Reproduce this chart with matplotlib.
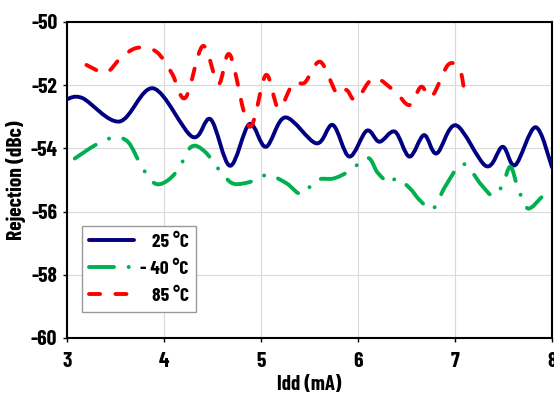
import numpy as np
import matplotlib
matplotlib.use("Agg")
import matplotlib.pyplot as plt
from matplotlib.path import Path
from matplotlib.patches import PathPatch
from matplotlib.lines import Line2D

plt.rcParams["font.family"] = ["Barlow Condensed", "Barlow Semi Condensed", "DejaVu Sans"]
plt.rcParams["font.weight"] = "bold"
plt.rcParams["axes.unicode_minus"] = False
plt.rcParams["lines.scale_dashes"] = False

# ---------------------------------------------------------------------------
# Data (Idd in mA, rejection in dBc)
# ---------------------------------------------------------------------------
idd_25 = [3.00, 3.16, 3.54, 3.89, 4.29, 4.48, 4.68, 4.88, 5.05, 5.25, 5.57, 5.74,
          5.91, 6.09, 6.22, 6.38, 6.53, 6.68, 6.81, 7.01, 7.32, 7.49, 7.62, 7.83, 8.00]
rej_25 = [-52.44, -52.41, -53.15, -52.10, -53.63, -53.08, -54.55, -53.23, -53.95, -53.02,
          -53.84, -53.26, -54.26, -53.44, -53.79, -53.47, -54.26, -53.58, -54.16, -53.27,
          -54.56, -53.95, -54.53, -53.33, -54.60]

idd_m40 = [3.08, 3.30, 3.48, 3.63, 3.77, 3.90, 4.02, 4.15, 4.28, 4.42, 4.60, 4.72,
           4.90, 5.07, 5.26, 5.42, 5.57, 5.75, 5.92, 6.10, 6.20, 6.32, 6.40, 6.53,
           6.64, 6.77, 6.90, 7.08, 7.27, 7.39, 7.49, 7.57, 7.65, 7.75, 7.89]
rej_m40 = [-54.32, -53.88, -53.66, -53.80, -54.58, -55.10, -55.05, -54.65, -53.95, -54.10,
           -54.80, -55.12, -55.05, -54.84, -55.10, -55.45, -55.00, -54.95, -54.70, -54.30,
           -54.76, -55.10, -54.95, -55.25, -55.65, -55.92, -55.20, -54.49, -55.15, -55.50,
           -55.16, -54.58, -55.26, -55.90, -55.55]

idd_85 = [3.20, 3.40, 3.55, 3.72, 3.92, 4.08, 4.22, 4.40, 4.56, 4.68, 4.88, 5.05,
          5.18, 5.33, 5.45, 5.61, 5.78, 5.88, 5.98, 6.16, 6.38, 6.53, 6.65, 6.76,
          6.93, 7.05, 7.10, 7.15]
rej_85 = [-51.36, -51.60, -51.15, -50.82, -50.94, -51.62, -52.40, -50.76, -51.96, -51.04,
          -53.31, -51.68, -52.73, -51.94, -51.92, -51.26, -52.26, -52.15, -52.47, -51.78,
          -52.20, -52.63, -52.05, -52.36, -51.35, -51.52, -52.20, -52.10]

labels = ["25 °C", "- 40 °C", "85 °C"]
x_ticks = [3, 4, 5, 6, 7, 8]
y_ticks = [-60, -58, -56, -54, -52, -50]

NAVY = "#000080"
GREEN = "#00b050"
RED = "#ff0000"
LW = 2.8
DASH_GREEN = (0, (18, 10.5, 0.1, 10.5))
DASH_RED = (0, (8, 11))


def smooth_path(x, y):
    """Catmull-Rom curve through the points, as cubic Bezier segments (Excel-style smoothing)."""
    p = np.column_stack([x, y]).astype(float)
    ext = np.vstack([p[0], p, p[-1]])
    verts = [p[0]]
    codes = [Path.MOVETO]
    for i in range(1, len(ext) - 2):
        c1 = ext[i] + (ext[i + 1] - ext[i - 1]) / 6.0
        c2 = ext[i + 1] - (ext[i + 2] - ext[i]) / 6.0
        verts += [c1, c2, ext[i + 1]]
        codes += [Path.CURVE4] * 3
    return Path(verts, codes)


fig = plt.figure(figsize=(5.54, 3.96), dpi=100)
ax = fig.add_axes([0.121, 0.1465, 0.8755, 0.798])

series = [
    (idd_25, rej_25, NAVY, "-"),
    (idd_m40, rej_m40, GREEN, DASH_GREEN),
    (idd_85, rej_85, RED, DASH_RED),
]
handles = []
for xs, ys, col, ls in series:
    patch = PathPatch(smooth_path(xs, ys), fill=False, edgecolor=col, linewidth=LW,
                      linestyle=ls, capstyle="round", joinstyle="round", zorder=3)
    ax.add_patch(patch)
    handles.append(Line2D([], [], color=col, linewidth=LW, linestyle=ls,
                          dash_capstyle="round", solid_capstyle="round"))

ax.set_xlim(3, 8)
ax.set_ylim(-60, -50)
ax.set_xticks(x_ticks)
ax.set_yticks(y_ticks)
ax.grid(True, color="#d9d9d9", linewidth=0.8)
ax.set_axisbelow(True)
for sp in ax.spines.values():
    sp.set_linewidth(1.5)
    sp.set_color("black")
ax.tick_params(direction="out", length=3, width=1, labelsize=15.5)
ax.tick_params(axis="x", pad=7)
ax.tick_params(axis="y", pad=4)

ax.set_xlabel("Idd (mA)", fontsize=15, fontweight="bold", labelpad=3)
ax.set_ylabel("Rejection (dBc)", fontsize=15.5, fontweight="bold", labelpad=3)

leg = ax.legend(handles, labels, loc="lower left", bbox_to_anchor=(0.031, 0.082),
                borderaxespad=0, fontsize=14, handlelength=2.3, handletextpad=0.35,
                labelspacing=0.5, borderpad=0.35, fancybox=False, framealpha=1,
                edgecolor="#999999")
leg.get_frame().set_linewidth(1.0)

# right-align the legend labels, as in the reference
fig.canvas.draw()
widths = [t.get_window_extent().width for t in leg.get_texts()]
for t, w in zip(leg.get_texts(), widths):
    t.set_x(max(widths) - w)

fig.savefig("out.png", dpi=100)
